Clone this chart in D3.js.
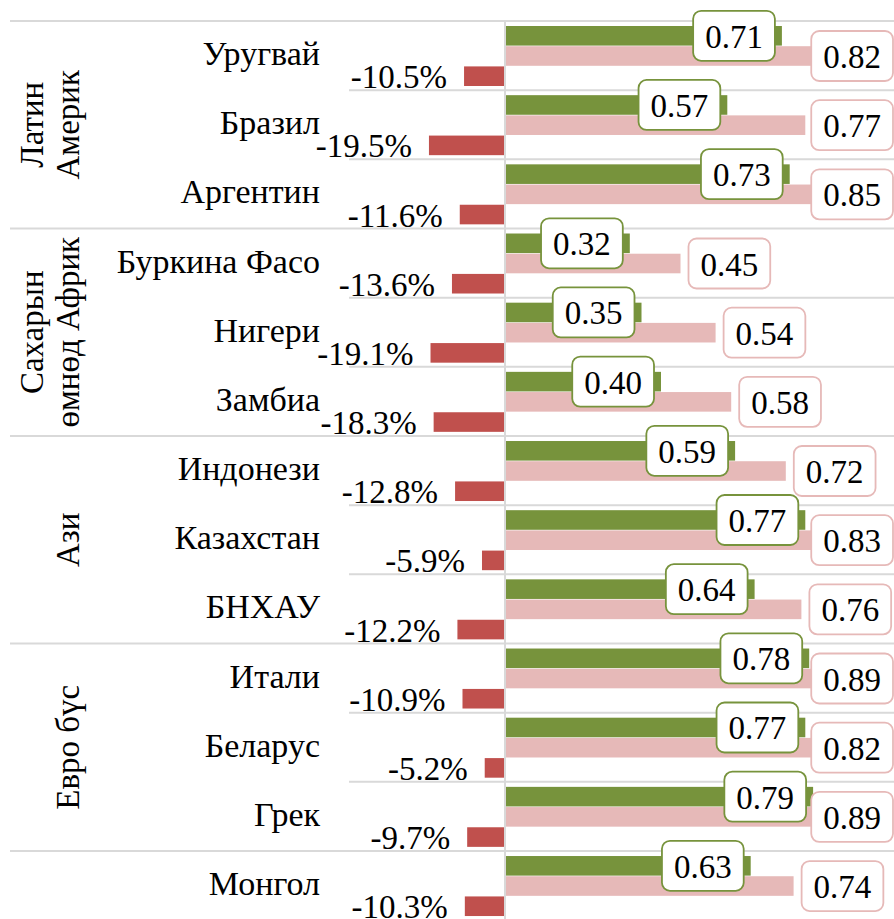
<!DOCTYPE html>
<html>
<head>
<meta charset="utf-8">
<script src="https://cdn.jsdelivr.net/npm/d3@7"></script>
<style>
  body { margin: 0; background: #fff; }
  text { font-family: "Liberation Serif", serif; fill: #000; }
</style>
</head>
<body>
<svg id="chart" width="894" height="919"></svg>
<script>
// data
const countries = ["Уругвай", "Бразил", "Аргентин", "Буркина Фасо", "Нигери", "Замбиа",
  "Индонези", "Казахстан", "БНХАУ", "Итали", "Беларус", "Грек", "Монгол"];
const green = [0.71, 0.57, 0.73, 0.32, 0.35, 0.40, 0.59, 0.77, 0.64, 0.78, 0.77, 0.79, 0.63];
const pink = [0.82, 0.77, 0.85, 0.45, 0.54, 0.58, 0.72, 0.83, 0.76, 0.89, 0.82, 0.89, 0.74];
const change = [-10.5, -19.5, -11.6, -13.6, -19.1, -18.3, -12.8, -5.9, -12.2, -10.9, -5.2, -9.7, -10.3];
const groupLabels = [["Латин", "Америк"], ["Сахарын", "өмнөд Африк"], ["Ази"], ["Евро бүс"], []];
const groupSizes = [3, 3, 3, 3, 1];

const svg = d3.select("#chart");
const W = 894;
const gridColor = "#d9d9d9";

const x = d3.scaleLinear().domain([0, 1]).range([505, 895]);
const y = d3.scaleBand().domain(countries).range([21, 920.2]);
const sub = d3.scaleBand().domain(["g", "p", "r"]).range([5, 65]).paddingInner(0.03);

const rows = countries.map((c, i) => ({ name: c, g: green[i], p: pink[i], r: change[i] / 100, rl: change[i] }));

// group start indices
let acc = 0;
const groups = groupSizes.map((s, i) => {
  const g = { start: acc, size: s, lines: groupLabels[i] };
  acc += s;
  return g;
});
const groupStarts = new Set(groups.map(g => g.start));

// grid lines
svg.append("g").selectAll("line")
  .data(countries)
  .join("line")
  .attr("x1", (d, i) => groupStarts.has(i) ? 10 : 349)
  .attr("x2", W)
  .attr("y1", d => y(d))
  .attr("y2", d => y(d))
  .attr("stroke", gridColor)
  .attr("stroke-width", 2);

// axis
svg.append("line")
  .attr("x1", x(0)).attr("x2", x(0))
  .attr("y1", 21).attr("y2", 919)
  .attr("stroke", gridColor)
  .attr("stroke-width", 2);

// bars
const bars = svg.append("g");
bars.selectAll(".gbar").data(rows).join("rect")
  .attr("x", x(0) + 1)
  .attr("y", d => y(d.name) + sub("g"))
  .attr("width", d => x(d.g) - x(0) - 1)
  .attr("height", sub.bandwidth())
  .attr("fill", "#77933c");
bars.selectAll(".pbar").data(rows).join("rect")
  .attr("x", x(0) + 1)
  .attr("y", d => y(d.name) + sub("p"))
  .attr("width", d => x(d.p) - x(0) - 1)
  .attr("height", sub.bandwidth())
  .attr("fill", "#e6b9b8");
bars.selectAll(".rbar").data(rows).join("rect")
  .attr("x", d => x(d.r))
  .attr("y", d => y(d.name) + sub("r"))
  .attr("width", d => x(0) - 1 - x(d.r))
  .attr("height", sub.bandwidth())
  .attr("fill", "#c0504d");

// red labels
svg.append("g").selectAll("text").data(rows).join("text")
  .attr("x", d => x(d.r) - 17)
  .attr("y", d => y(d.name) + sub("r") + sub.bandwidth() / 2 + 1)
  .attr("text-anchor", "end")
  .attr("dominant-baseline", "central")
  .attr("font-size", 33)
  .text(d => d.rl.toFixed(1) + "%");

// boxed labels
function boxLabel(sel, key, stroke, place) {
  const g = sel.append("g").attr("class", "lbl");
  g.append("text")
    .attr("text-anchor", "middle")
    .attr("dominant-baseline", "central")
    .attr("font-size", 33)
    .text(d => d[key].toFixed(2));
  g.each(function (d) {
    const gg = d3.select(this);
    const tw = gg.select("text").node().getComputedTextLength();
    const w = tw + 24, h = 50;
    const end = x(d[key]);
    const left = place(end, w);
    const cy = y(d.name) + sub(key) + sub.bandwidth() / 2;
    gg.insert("rect", "text")
      .attr("x", left).attr("y", cy - h / 2)
      .attr("width", w).attr("height", h)
      .attr("rx", 8)
      .attr("fill", "#fff")
      .attr("stroke", stroke)
      .attr("stroke-width", 1.8);
    gg.select("text").attr("x", left + w / 2).attr("y", cy + 1);
  });
}

const lblLayer = svg.append("g");
const lr = lblLayer.selectAll("g.row").data(rows).join("g").attr("class", "row");
lr.call(boxLabel, "p", "#e6b9b8", (end, w) => Math.min(end + 8, 893 - w));
lr.call(boxLabel, "g", "#77933c", (end, w) => end - 7 - w);

// country labels
svg.append("g").selectAll("text").data(countries).join("text")
  .attr("x", 320)
  .attr("y", d => y(d) + y.bandwidth() / 2 - 2)
  .attr("text-anchor", "end")
  .attr("dominant-baseline", "central")
  .attr("font-size", 34)
  .text(d => d);

// group labels
groups.forEach(g => {
  const y0 = y(countries[g.start]);
  const cy = y0 + y.step() * g.size / 2;
  const n = g.lines.length;
  g.lines.forEach((line, j) => {
    const bx = 79 - (n - 1 - j) * 36;
    svg.append("text")
      .attr("transform", `translate(${bx},${cy}) rotate(-90)`)
      .attr("text-anchor", "middle")
      .attr("font-size", 33)
      .text(line);
  });
});
</script>
</body>
</html>
